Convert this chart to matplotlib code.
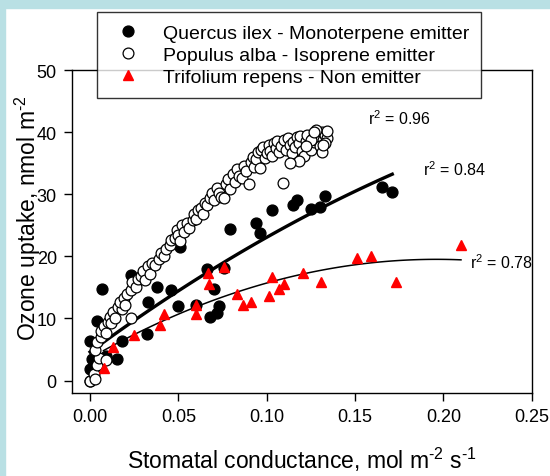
import numpy as np
import matplotlib
matplotlib.use("Agg")
import matplotlib.pyplot as plt
from matplotlib.patches import Rectangle

plt.rcParams['font.family'] = ['Liberation Sans', 'DejaVu Sans']
plt.rcParams['mathtext.default'] = 'regular'

# Quercus ilex - monoterpene emitter (filled black)
quercus_x = [0.000, 0.000, 0.001, 0.009, 0.015, 0.000, 0.018, 0.032, 0.004, 0.007,
             0.023, 0.033, 0.038, 0.046, 0.050, 0.051, 0.060, 0.066, 0.068, 0.070,
             0.072, 0.073, 0.076, 0.079, 0.094, 0.096, 0.103, 0.115, 0.117, 0.125,
             0.130, 0.133, 0.165, 0.171]
quercus_y = [0.0, 1.9, 3.5, 4.0, 3.5, 6.4, 6.4, 7.5, 9.6, 14.7,
             17.0, 12.6, 15.1, 14.6, 12.0, 21.5, 12.2, 17.9, 10.3, 14.7,
             10.9, 12.0, 18.2, 24.4, 25.3, 23.7, 27.5, 28.3, 29.1, 27.7,
             28.0, 29.8, 31.1, 30.4]

# Populus alba - isoprene emitter (open circles)
populus_x = [0.000, 0.002, 0.003, 0.004, 0.005, 0.009, 0.003, 0.004, 0.006, 0.006,
             0.008, 0.009, 0.010, 0.011, 0.012, 0.013, 0.014, 0.016, 0.018, 0.017,
             0.019, 0.020, 0.021, 0.023, 0.023, 0.024, 0.026, 0.027, 0.029, 0.030,
             0.031, 0.033, 0.034, 0.035, 0.037, 0.039, 0.040, 0.042, 0.043, 0.045,
             0.046, 0.048, 0.049, 0.050, 0.051, 0.052, 0.053, 0.055, 0.056, 0.058,
             0.059, 0.060, 0.061, 0.063, 0.064, 0.065, 0.066, 0.068, 0.069, 0.070,
             0.072, 0.073, 0.074, 0.076, 0.077, 0.078, 0.079, 0.081, 0.082, 0.083,
             0.084, 0.086, 0.087, 0.088, 0.090, 0.091, 0.092, 0.093, 0.094, 0.095,
             0.096, 0.097, 0.098, 0.099, 0.100, 0.101, 0.102, 0.103, 0.104, 0.105,
             0.106, 0.107, 0.108, 0.109, 0.110, 0.111, 0.112, 0.113, 0.114, 0.115,
             0.116, 0.117, 0.118, 0.119, 0.120, 0.121, 0.122, 0.123, 0.124, 0.125,
             0.126, 0.127, 0.128, 0.129, 0.130, 0.131, 0.132, 0.133, 0.134, 0.134,
             0.133, 0.130, 0.118, 0.113, 0.128, 0.131, 0.125, 0.122, 0.127, 0.132]
populus_y = [0.0, 1.0, 0.2, 2.5, 3.6, 3.3, 5.0, 6.2, 7.0, 8.0,
             8.8, 7.6, 9.5, 10.3, 9.2, 11.0, 10.0, 11.8, 11.5, 12.6,
             13.3, 12.2, 14.0, 10.1, 14.6, 15.8, 15.0, 16.3, 16.8, 17.6,
             16.2, 18.4, 17.2, 19.0, 18.6, 19.5, 20.6, 20.0, 21.2, 21.8,
             22.6, 23.0, 24.2, 23.4, 22.4, 25.0, 24.0, 25.4, 24.6, 25.8,
             26.8, 26.0, 27.4, 27.8, 26.8, 28.6, 28.2, 29.4, 30.2, 29.0,
             31.0, 30.2, 29.6, 29.4, 31.6, 32.4, 30.8, 33.2, 32.0, 34.0,
             33.0, 32.6, 34.6, 33.8, 31.6, 35.2, 36.0, 34.4, 35.6, 36.8,
             34.2, 37.2, 37.6, 35.8, 36.6, 38.0, 37.0, 36.2, 38.2, 37.4,
             38.6, 36.8, 37.8, 31.8, 38.8, 37.2, 39.0, 38.0, 36.6, 38.4,
             37.6, 39.2, 38.2, 39.4, 37.0, 36.2, 38.6, 39.6, 38.0, 37.2,
             39.0, 38.4, 39.8, 38.6, 39.2, 40.0, 38.8, 39.6, 39.0, 40.2,
             38.2, 37.8, 35.4, 35.0, 40.4, 36.8, 38.8, 37.8, 40.0, 38.0]

# Trifolium repens - non emitter (red triangles)
trifolium_x = [0.0076, 0.0129, 0.0246, 0.0398, 0.0420, 0.0597, 0.0597, 0.0669, 0.0672, 0.0758,
               0.0833, 0.0867, 0.0913, 0.1013, 0.1027, 0.1070, 0.1095, 0.1203, 0.1307, 0.1511,
               0.1590, 0.1733, 0.2099]
trifolium_y = [2.0, 5.4, 7.4, 9.0, 10.8, 12.2, 10.8, 17.4, 15.6, 18.3,
               14.0, 12.2, 12.6, 13.7, 16.7, 14.8, 15.6, 17.3, 15.8, 19.8,
               20.0, 15.8, 21.8]

labels = ['Quercus ilex - Monoterpene emitter',
          'Populus alba - Isoprene emitter',
          'Trifolium repens - Non emitter']
r2_labels = ['0.96', '0.84', '0.78']

fig = plt.figure(figsize=(5.5, 4.77), dpi=100)
fig.patches.append(Rectangle((0, 0), 0.009, 1, transform=fig.transFigure,
                             color='#b9e0e4', zorder=0))
fig.patches.append(Rectangle((0, 0.981), 1, 0.019, transform=fig.transFigure,
                             color='#b9e0e4', zorder=0))
ax = fig.add_axes([0.131, 0.174, 0.836, 0.677])

hq, = ax.plot(quercus_x, quercus_y, 'o', color='black', markersize=7.8, zorder=2)

# quadratic regressions
cq = np.polyfit(quercus_x, quercus_y, 2)
xq = np.linspace(min(quercus_x), max(quercus_x), 100)
ax.plot(xq, np.polyval(cq, xq), color='black', lw=2.4, zorder=2.5)

ct = np.polyfit(trifolium_x, trifolium_y, 2)
xt = np.linspace(min(trifolium_x), max(trifolium_x), 100)
ax.plot(xt, np.polyval(ct, xt), color='black', lw=1.1, zorder=2.5)

hp, = ax.plot(populus_x, populus_y, 'o', mfc='white', mec='black', mew=0.9,
              markersize=7.8, zorder=3)
ht, = ax.plot(trifolium_x, trifolium_y, '^', color='red', markersize=7.2, zorder=4)

ax.text(0.157, 42.4, r'r$^2$ = ' + r2_labels[0], fontsize=11.5, va='center')
ax.text(0.1886, 34.1, r'r$^2$ = ' + r2_labels[1], fontsize=11.5, va='center')
ax.text(0.2148, 19.2, r'r$^2$ = ' + r2_labels[2], fontsize=11.5, va='center')

ax.set_xlim(-0.0102, 0.25)
ax.set_ylim(-2, 50)
ax.set_xticks([0.00, 0.05, 0.10, 0.15, 0.20, 0.25])
ax.set_xticklabels(['0.00', '0.05', '0.10', '0.15', '0.20', '0.25'])
ax.set_yticks([0, 10, 20, 30, 40, 50])
ax.tick_params(labelsize=13, length=6, width=1, direction='out', pad=5)
for s in ax.spines.values():
    s.set_linewidth(1)

ax.set_xlabel('Stomatal conductance, mol m$^{\u20102}$ s$^{\u20101}$', fontsize=16.5)
ax.xaxis.set_label_coords(0.5, -0.16)
ax.set_ylabel('Ozone uptake, nmol m$^{\u20102}$', fontsize=16.5)
ax.yaxis.set_label_coords(-0.064, 0.545)

leg = fig.legend([hq, hp, ht], labels, loc='upper left',
                 bbox_to_anchor=(0.176, 0.973), fontsize=14, frameon=True,
                 fancybox=False, borderpad=0.62, handlelength=1.96,
                 handletextpad=0.82, labelspacing=0.23, borderaxespad=0)
leg.get_frame().set_edgecolor('black')
leg.get_frame().set_linewidth(1)
leg.set_zorder(10)

fig.savefig('out.png', dpi=100)
